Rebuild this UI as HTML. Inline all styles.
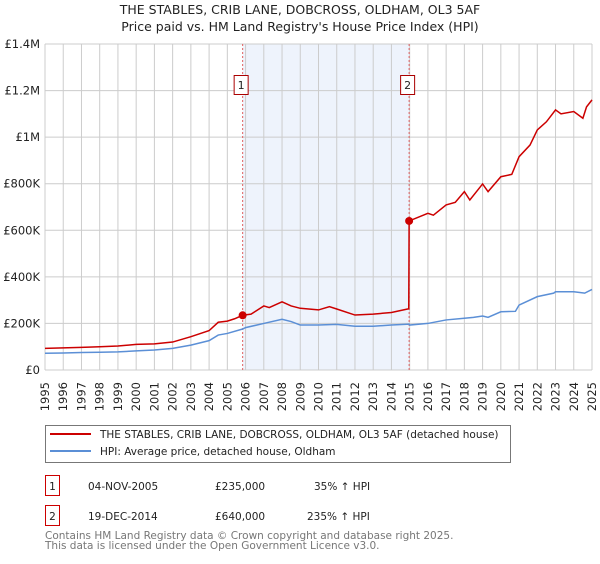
<!DOCTYPE html>
<html><head><meta charset="utf-8"><style>
body{margin:0;background:#fff;font-family:"DejaVu Sans","Liberation Sans",sans-serif;}
svg text{font-family:"DejaVu Sans","Liberation Sans",sans-serif;}
</style></head><body>
<svg id="chart" width="600" height="560" xmlns="http://www.w3.org/2000/svg">
<text x="300" y="14" text-anchor="middle" font-size="12.5" fill="#222">THE STABLES, CRIB LANE, DOBCROSS, OLDHAM, OL3 5AF</text>
<text x="300" y="31" text-anchor="middle" font-size="12.5" fill="#222">Price paid vs. HM Land Registry's House Price Index (HPI)</text>
<g id="grid"></g><g id="plot"></g><g id="axes"></g>
<g>
<rect x="45.5" y="425.5" width="465" height="37" fill="#fff" stroke="#777"/>
<line x1="50" y1="434" x2="91" y2="434" stroke="#cc0000" stroke-width="2"/>
<text x="100" y="438" font-size="10.5" fill="#222">THE STABLES, CRIB LANE, DOBCROSS, OLDHAM, OL3 5AF (detached house)</text>
<line x1="50" y1="451" x2="91" y2="451" stroke="#5b8fd6" stroke-width="2"/>
<text x="100" y="455" font-size="10.5" fill="#222">HPI: Average price, detached house, Oldham</text>
</g>
<g font-size="10.5" fill="#222">
<rect x="45.5" y="475.5" width="14" height="20" fill="#fff" stroke="#cc0000"/>
<text x="52.5" y="490" text-anchor="middle">1</text>
<text x="88" y="490">04-NOV-2005</text><text x="215" y="490">£235,000</text><text x="314" y="490">35% ↑ HPI</text>
<rect x="45.5" y="505.5" width="14" height="20" fill="#fff" stroke="#cc0000"/>
<text x="52.5" y="520" text-anchor="middle">2</text>
<text x="88" y="520">19-DEC-2014</text><text x="215" y="520">£640,000</text><text x="307" y="520">235% ↑ HPI</text>
</g>
<text x="45" y="539" font-size="10.5" fill="#777">Contains HM Land Registry data © Crown copyright and database right 2025.</text>
<text x="45" y="549" font-size="10.5" fill="#777">This data is licensed under the Open Government Licence v3.0.</text>
</svg>
<script>
const hpiYears=[1995,1996,1997,1998,1999,2000,2001,2002,2003,2004,2004.5,2005,2005.84,2006,2007,2008,2008.5,2009,2010,2011,2012,2013,2014,2014.97,2015,2016,2017,2018,2018.5,2019,2019.3,2020,2020.8,2021,2022,2022.9,2023,2024,2024.6,2025];
const hpiValues=[72000,73000,75000,76000,78000,82000,86000,93000,107000,126000,150000,157000,176000,182000,200000,218000,208000,193000,193000,196000,188000,188000,193000,197000,193000,200000,215000,222000,226000,232000,226000,250000,252000,279000,315000,330000,336000,336000,330000,346000];
const redYears=[1995,1996,1997,1998,1999,2000,2001,2002,2003,2004,2004.5,2005,2005.4,2005.84,2006.3,2007,2007.3,2008,2008.5,2009,2010,2010.6,2011,2012,2013,2014,2014.95,2014.97,2016,2016.3,2017,2017.5,2018,2018.3,2019,2019.3,2020,2020.6,2021,2021.6,2022,2022.5,2023,2023.3,2024,2024.5,2024.7,2025];
const redValues=[93000,95000,97000,100000,103000,110000,112000,120000,143000,169000,205000,210000,220000,235000,240000,275000,268000,293000,275000,265000,258000,272000,262000,236000,240000,247000,263000,640000,673000,665000,709000,720000,766000,730000,799000,766000,830000,840000,916000,966000,1031000,1066000,1117000,1100000,1110000,1081000,1130000,1160000];
const saleYears=[2005.84,2014.97];
const saleValues=[235000,640000];
const saleLabels=["1","2"];
const yTicks=[0,200000,400000,600000,800000,1000000,1200000,1400000];
const yTickLabels=["£0","£200K","£400K","£600K","£800K","£1M","£1.2M","£1.4M"];
const xTicks=[1995,1996,1997,1998,1999,2000,2001,2002,2003,2004,2005,2006,2007,2008,2009,2010,2011,2012,2013,2014,2015,2016,2017,2018,2019,2020,2021,2022,2023,2024,2025];

const X0=45,X1=592,Y0=370,Y1=44;
const xs=v=>X0+(v-1995)/30*(X1-X0);
const ys=v=>Y0-v/1400000*(Y0-Y1);
const NS="http://www.w3.org/2000/svg";
function mk(tag,attrs,parent){const e=document.createElementNS(NS,tag);for(const k in attrs)e.setAttribute(k,attrs[k]);parent.appendChild(e);return e;}
const grid=document.getElementById('grid'),plot=document.getElementById('plot'),axes=document.getElementById('axes');

let band=mk('rect',{x:xs(saleYears[0]),y:Y1,width:xs(saleYears[1])-xs(saleYears[0]),height:Y0-Y1,fill:'#eef3fc'},grid);


xTicks.forEach(t=>{
  let l=mk('line',{x1:xs(t),x2:xs(t),y1:Y1,y2:Y0,stroke:'#cccccc','stroke-width':1},grid);
  
  
  let tx=mk('text',{x:0,y:0,'font-size':11.5,fill:'#222','text-anchor':'end',transform:`translate(${xs(t)+4},${Y0+12}) rotate(-90)`},axes);
  tx.textContent=t;
  
  
});
yTicks.forEach((t,i)=>{
  let l=mk('line',{x1:X0,x2:X1,y1:ys(t),y2:ys(t),stroke:'#cccccc','stroke-width':1},grid);
  
  
  let tx=mk('text',{x:40,y:ys(t)+4,'font-size':11.5,fill:'#222','text-anchor':'end'},axes);
  tx.textContent=yTickLabels[i];
  
  
});
saleYears.forEach((s,i)=>{
  let l=mk('line',{x1:xs(s),x2:xs(s),y1:Y1,y2:Y0,stroke:'#e06060','stroke-width':1,'stroke-dasharray':'2,2'},plot);
  
  
});
let hp=mk('polyline',{points:hpiYears.map((y,i)=>xs(y)+','+ys(hpiValues[i])).join(' '),fill:'none',stroke:'#5b8fd6','stroke-width':1.5},plot);


let rp=mk('polyline',{points:redYears.map((y,i)=>xs(y)+','+ys(redValues[i])).join(' '),fill:'none',stroke:'#cc0000','stroke-width':1.5},plot);


saleYears.forEach((s,i)=>{
  let c=mk('circle',{cx:xs(s),cy:ys(saleValues[i]),r:4,fill:'#cc0000'},plot);
  
  
  let r=mk('rect',{x:xs(s)-8.5,y:75.5,width:14,height:19,fill:'#fff',stroke:'#aa0000'},plot);
  
  
  let t=mk('text',{x:xs(s)-1.5,y:89,'font-size':11,fill:'#222','text-anchor':'middle'},plot);
  t.textContent=saleLabels[i];
  
  
});
</script>
</body></html>
